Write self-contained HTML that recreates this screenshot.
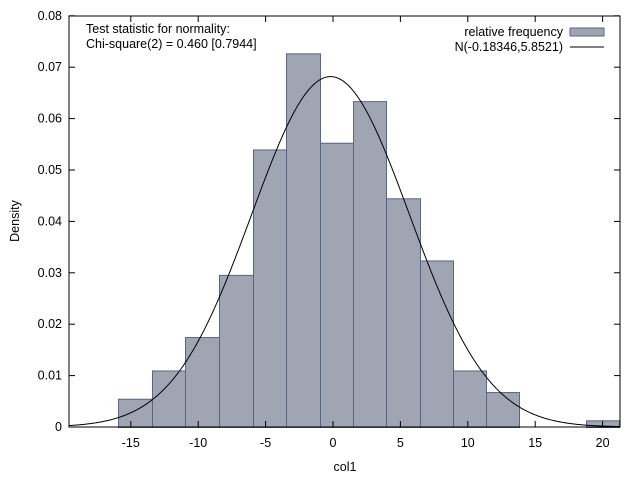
<!DOCTYPE html>
<html><head><meta charset="utf-8"><style>
body{margin:0;background:#fff}
svg{display:block;font-family:"Liberation Sans","DejaVu Sans",sans-serif;font-size:12.5px}
</style></head><body>
<svg id="s" width="640" height="480" xmlns="http://www.w3.org/2000/svg">
<g id="bars" fill="#a0a5b4" stroke="#5b6480" stroke-width="1"></g>
<path id="curve" fill="none" stroke="#000" stroke-width="1"></path>
<rect x="69" y="16" width="551" height="411" fill="none" stroke="#000" stroke-width="1"/>
<g id="ticks" stroke="#000" stroke-width="1"></g>
<g id="lab" fill="#000"></g>
<text x="86" y="33">Test statistic for normality:</text>
<text x="86" y="48">Chi-square(2) = 0.460 [0.7944]</text>
<text x="563" y="36" text-anchor="end">relative frequency</text>
<rect x="570" y="28" width="34" height="8" fill="#a0a5b4" stroke="#5b6480"/>
<text x="563" y="51" text-anchor="end">N(-0.18346,5.8521)</text>
<line x1="570" y1="47" x2="604" y2="47" stroke="#000"/>
<text x="345" y="471" text-anchor="middle">col1</text>
<text transform="translate(19,221) rotate(-90)" text-anchor="middle">Density</text>
</svg>
<script>
var NS="http://www.w3.org/2000/svg";
function el(p,t,a,txt){var e=document.createElementNS(NS,t);for(var k in a)e.setAttribute(k,a[k]);if(txt!=null)e.textContent=txt;document.getElementById(p).appendChild(e);}
var X0=333,SX=13.48,Y0=427,SY=5140;
function px(v){return X0+v*SX} function py(d){return Y0-d*SY}
var edges=[118,152,185,219,253,286,320,353,386,420,453,486,519];
var h=[0.0055,0.011,0.0175,0.0296,0.054,0.0727,0.0553,0.0634,0.0445,0.0324,0.011,0.0068];
for(var i=0;i<h.length;i++)el("bars","rect",{x:edges[i]+0.5,y:py(h[i])+0.5,width:edges[i+1]-edges[i],height:Y0-py(h[i])});
el("bars","rect",{x:586.5,y:py(0.0013)+0.5,width:33,height:Y0-py(0.0013)});
var m=-0.18346,s=5.8521,d="";
for(var x=69;x<=620;x+=1){var v=(x-X0)/SX;var f=Math.exp(-0.5*Math.pow((v-m)/s,2))/(s*Math.sqrt(2*Math.PI));d+=(x==69?"M":"L")+x+","+py(f).toFixed(2);}
document.getElementById("curve").setAttribute("d",d);
for(var v=-15;v<=20;v+=5){var x=px(v);el("ticks","line",{x1:x,y1:427,x2:x,y2:421});el("ticks","line",{x1:x,y1:16,x2:x,y2:22});el("lab","text",{x:x,y:447,"text-anchor":"middle"},String(v));}
for(var j=0;j<=8;j++){var y=py(j*0.01);el("ticks","line",{x1:69,y1:y,x2:75,y2:y});el("ticks","line",{x1:620,y1:y,x2:614,y2:y});el("lab","text",{x:62,y:y+4,"text-anchor":"end"},j==0?"0":(j*0.01).toFixed(2));}
</script>
</body></html>
